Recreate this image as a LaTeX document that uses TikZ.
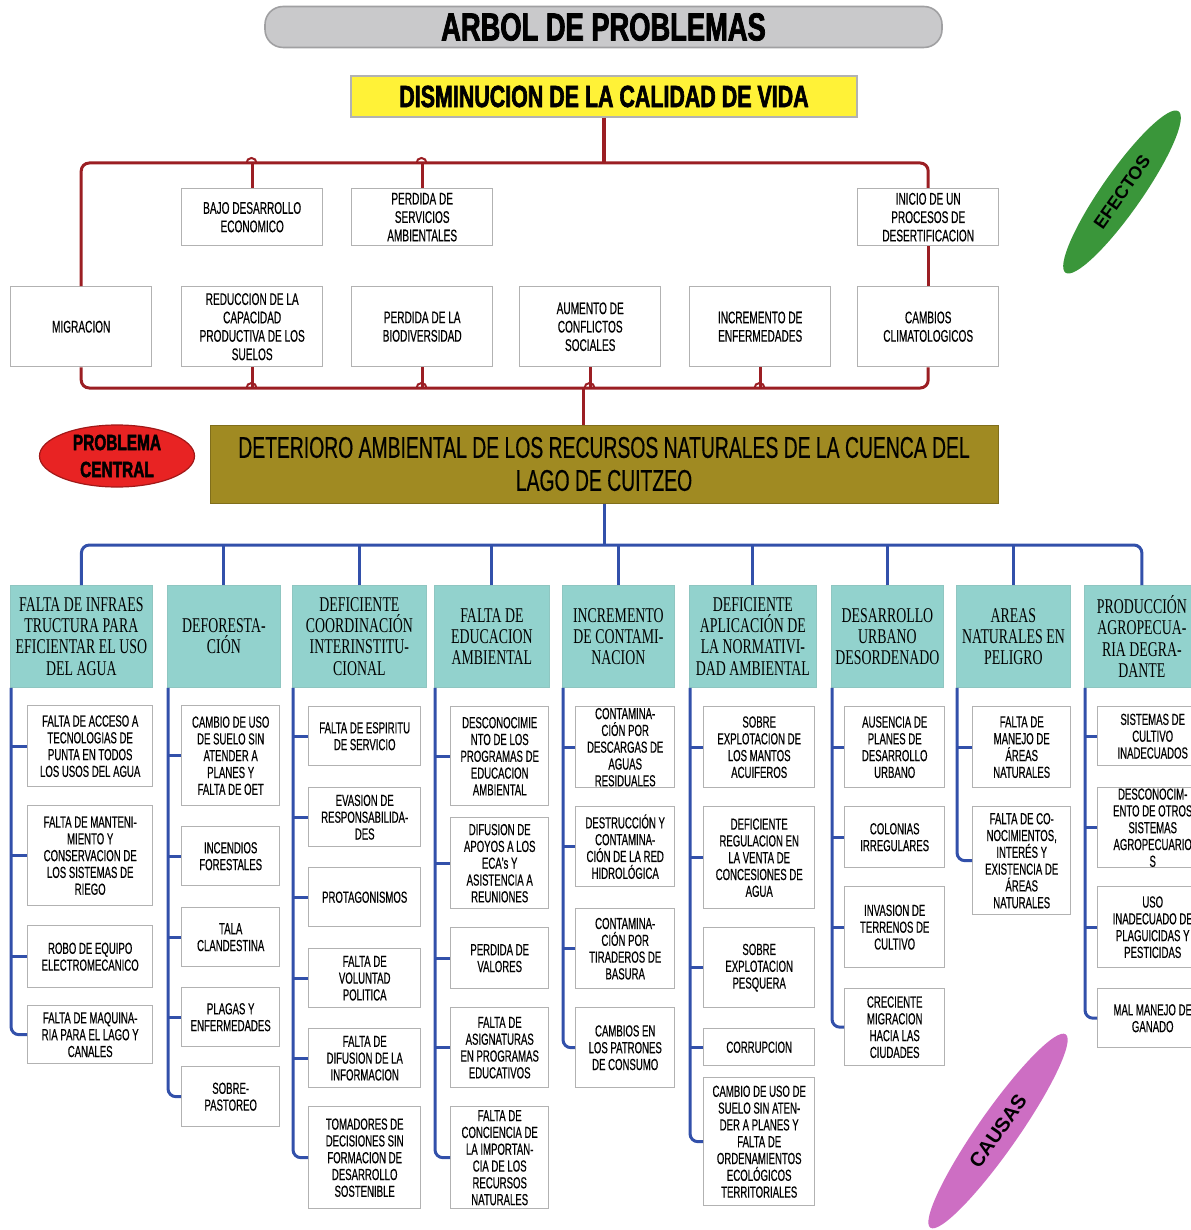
\documentclass[tikz,border=0pt]{standalone}
\usepackage{fontspec}
\usetikzlibrary{shapes.geometric}

\setmainfont{Liberation Sans}
\newfontfamily\narrowfont[FakeStretch = 0.6, FakeBold = 0.4]{Liberation Sans}
\newfontfamily\centralfont[FakeStretch = 0.645, FakeBold = 0.4]{Liberation Sans}
\newfontfamily\heavyfont[FakeStretch = 0.7, FakeBold = 2]{Liberation Sans Bold}
\newfontfamily\headfont[FakeStretch = 0.66]{Liberation Serif}

\definecolor{barGray}{RGB}{201,201,203}
\definecolor{barEdge}{RGB}{160,160,162}
\definecolor{yellowBox}{RGB}{255,242,55}
\definecolor{effectRed}{RGB}{155,30,35}
\definecolor{oliveBox}{RGB}{160,138,34}
\definecolor{headTeal}{RGB}{146,210,205}
\definecolor{causeBlue}{RGB}{50,80,170}
\definecolor{boxGray}{RGB}{178,178,178}
\definecolor{leafGreen}{RGB}{58,150,58}
\definecolor{leafPink}{RGB}{205,110,195}
\definecolor{centralRed}{RGB}{232,35,35}

\def\u{0.5pt}	% One pixel of the reference

\begin{document}
\begin{tikzpicture}[x = \u, y = -\u,
	wh/.style 2 args = {minimum width = #1*\u, minimum height = #2*\u},
	effect/.style = {draw = boxGray, line width = 0.7pt, fill = white, anchor = north west, align = center, inner sep = 1pt, font = \narrowfont\fontsize{8.4}{9.2}\selectfont},
	cause/.style = {draw = boxGray, line width = 0.7pt, fill = white, anchor = north west, align = center, inner sep = 0pt, font = \narrowfont\fontsize{8}{8.4}\selectfont},
	header/.style = {draw = headTeal!85!gray, fill = headTeal, anchor = north west, align = center, inner sep = 1pt, font = \headfont\fontsize{10.5}{10.6}\selectfont},
	effect line/.style = {draw = effectRed, line width = 1.5pt, rounded corners = 4pt},
	cause line/.style = {draw = causeBlue, line width = 1.5pt, rounded corners = 4pt}]

	\useasboundingbox (0, 0) rectangle (1190, 1230);

	% Title and main effect

	\node [draw = barEdge, line width = 0.8pt, fill = barGray, rounded corners = 9pt, wh = {677}{38}, font = \heavyfont\fontsize{19.5}{20}\selectfont] (title) at (603.5, 27) {ARBOL DE PROBLEMAS};
	\node [draw = boxGray, line width = 0.7pt, fill = yellowBox, wh = {506}{41}, font = \heavyfont\fontsize{15.3}{16}\selectfont] (dism) at (604, 96.5) {DISMINUCION DE LA CALIDAD DE VIDA};

	% Effects, upper row

	\node [effect, wh = {141}{57}] (bajo) at (181, 188) {BAJO DESARROLLO\\ECONOMICO};
	\node [effect, wh = {141}{57}] (servicios) at (351, 188) {PERDIDA DE\\SERVICIOS\\AMBIENTALES};
	\node [effect, wh = {141}{57}] (inicio) at (857, 188) {INICIO DE UN\\PROCESOS DE\\DESERTIFICACION};

	% Effects, lower row

	\node [effect, wh = {141}{80}] (migracion) at (10, 286) {MIGRACION};
	\node [effect, wh = {141}{80}] (reduccion) at (181, 286) {REDUCCION DE LA\\CAPACIDAD\\PRODUCTIVA DE LOS\\SUELOS};
	\node [effect, wh = {141}{80}] (biodiv) at (351, 286) {PERDIDA DE LA\\BIODIVERSIDAD};
	\node [effect, wh = {141}{80}] (aumento) at (519, 286) {AUMENTO DE\\CONFLICTOS\\SOCIALES};
	\node [effect, wh = {141}{80}] (enfermedades) at (689, 286) {INCREMENTO DE\\ENFERMEDADES};
	\node [effect, wh = {141}{80}] (cambios) at (857, 286) {CAMBIOS\\CLIMATOLOGICOS};

	% Central problem

	\node [draw = oliveBox!80!black, line width = 0.5pt, fill = oliveBox, wh = {788}{78}, align = center, font = \centralfont\fontsize{15}{16.5}\selectfont] (central) at (604, 464) {DETERIORO AMBIENTAL DE LOS RECURSOS NATURALES DE LA CUENCA DEL\\LAGO DE CUITZEO};
	\node [ellipse, draw = centralRed!70!black, line width = 0.6pt, fill = centralRed, wh = {155}{62}, inner sep = 0pt, align = center, font = \heavyfont\fontsize{11}{13.5}\selectfont] (problema) at (117, 456) {PROBLEMA\\CENTRAL};

	% Leaves

	\node [ellipse, fill = leafGreen, rotate = 55, wh = {197}{40}, font = \bfseries\fontsize{9}{10}\selectfont] (efectos) at (1122, 192) {EFECTOS};
	\node [ellipse, fill = leafPink, rotate = 55, wh = {236}{40}, font = \bfseries\fontsize{10}{11}\selectfont] (causas) at (998, 1131) {CAUSAS};

	% Red connectors of the effects

	\coordinate (topbar) at (604, 163);
	\coordinate (botbar) at (583, 388);

	\draw [effect line, line width = 2pt] (dism.south) -- (topbar);
	\draw [effect line] (migracion.north) -- (migracion.north |- topbar) -- (inicio.north |- topbar) -- (inicio.north);
	\draw [effect line] (bajo.north) -- (bajo.north |- topbar);
	\draw [effect line] (servicios.north) -- (servicios.north |- topbar);
	\draw [effect line] (inicio.south) -- (cambios.north);

	\draw [effect line] (migracion.south) -- (migracion.south |- botbar) -- (cambios.south |- botbar) -- (cambios.south);
	\draw [effect line] (reduccion.south) -- (reduccion.south |- botbar);
	\draw [effect line] (biodiv.south) -- (biodiv.south |- botbar);
	\draw [effect line] (aumento.south) -- (aumento.south |- botbar);
	\draw [effect line] (enfermedades.south) -- (enfermedades.south |- botbar);
	\draw [effect line] (botbar) -- (central.north -| botbar);

	% Hops where the branches meet the bars

	\draw [effect line, line width = 1pt] (246.5, 163) arc (180 : 0 : 2.5pt);
	\draw [effect line, line width = 1pt] (416.5, 163) arc (180 : 0 : 2.5pt);
	\draw [effect line, line width = 1pt] (246.5, 388) arc (180 : 0 : 2.5pt);
	\draw [effect line, line width = 1pt] (416.5, 388) arc (180 : 0 : 2.5pt);
	\draw [effect line, line width = 1pt] (584.5, 388) arc (180 : 0 : 2.5pt);
	\draw [effect line, line width = 1pt] (754.5, 388) arc (180 : 0 : 2.5pt);

	% Headers of the causes

	\node [header, wh = {142}{102}] (h1) at (10, 585) {FALTA DE INFRAES\\TRUCTURA PARA\\EFICIENTAR EL USO\\DEL AGUA};
	\node [header, wh = {113}{102}] (h2) at (167, 585) {DEFORESTA-\\CIÓN};
	\node [header, wh = {134}{102}] (h3) at (292, 585) {DEFICIENTE\\COORDINACIÓN\\INTERINSTITU-\\CIONAL};
	\node [header, wh = {115}{102}] (h4) at (434, 585) {FALTA DE\\EDUCACION\\AMBIENTAL};
	\node [header, wh = {112}{102}] (h5) at (562, 585) {INCREMENTO\\DE CONTAMI-\\NACION};
	\node [header, wh = {127}{102}] (h6) at (689, 585) {DEFICIENTE\\APLICACIÓN DE\\LA NORMATIVI-\\DAD AMBIENTAL};
	\node [header, wh = {112}{102}] (h7) at (831, 585) {DESARROLLO\\URBANO\\DESORDENADO};
	\node [header, wh = {114}{102}] (h8) at (956, 585) {AREAS\\NATURALES EN\\PELIGRO};
	\node [header, wh = {115}{102}] (h9) at (1084, 585) {PRODUCCIÓN\\AGROPECUA-\\RIA DEGRA-\\DANTE};

	% Blue connectors to the headers

	\coordinate (bluebar) at (604, 545);

	\draw [cause line] (central.south) -- (bluebar);
	\draw [cause line] (h1.north) -- (h1.north |- bluebar) -- (h9.north |- bluebar) -- (h9.north);
	\draw [cause line] (h2.north) -- (h2.north |- bluebar);
	\draw [cause line] (h3.north) -- (h3.north |- bluebar);
	\draw [cause line] (h4.north) -- (h4.north |- bluebar);
	\draw [cause line] (h5.north) -- (h5.north |- bluebar);
	\draw [cause line] (h6.north) -- (h6.north |- bluebar);
	\draw [cause line] (h7.north) -- (h7.north |- bluebar);
	\draw [cause line] (h8.north) -- (h8.north |- bluebar);

	% Column 1

	\node [cause, wh = {125}{81}] (c11) at (27, 705) {FALTA DE ACCESO A\\TECNOLOGIAS DE\\PUNTA EN TODOS\\LOS USOS DEL AGUA};
	\node [cause, wh = {125}{100}] (c12) at (27, 805) {FALTA DE MANTENI-\\MIENTO Y\\CONSERVACION DE\\LOS SISTEMAS DE\\RIEGO};
	\node [cause, wh = {125}{62}] (c13) at (27, 925) {ROBO DE EQUIPO\\ELECTROMECANICO};
	\node [cause, wh = {125}{58}] (c14) at (27, 1005) {FALTA DE MAQUINA-\\RIA PARA EL LAGO Y\\CANALES};

	\coordinate (l1) at ([xshift = 0.5pt]h1.south west);
	\draw [cause line] (l1) |- (c14.west);
	\draw [cause line] (l1 |- c11.west) -- (c11.west);
	\draw [cause line] (l1 |- c12.west) -- (c12.west);
	\draw [cause line] (l1 |- c13.west) -- (c13.west);

	% Column 2

	\node [cause, wh = {98}{100}] (c21) at (181, 705) {CAMBIO DE USO\\DE SUELO SIN\\ATENDER A\\PLANES Y\\FALTA DE OET};
	\node [cause, wh = {98}{59}] (c22) at (181, 826) {INCENDIOS\\FORESTALES};
	\node [cause, wh = {98}{59}] (c23) at (181, 907) {TALA\\CLANDESTINA};
	\node [cause, wh = {98}{59}] (c24) at (181, 987) {PLAGAS Y\\ENFERMEDADES};
	\node [cause, wh = {98}{60}] (c25) at (181, 1066) {SOBRE-\\PASTOREO};

	\coordinate (l2) at ([xshift = 0.5pt]h2.south west);
	\draw [cause line] (l2) |- (c25.west);
	\draw [cause line] (l2 |- c21.west) -- (c21.west);
	\draw [cause line] (l2 |- c22.west) -- (c22.west);
	\draw [cause line] (l2 |- c23.west) -- (c23.west);
	\draw [cause line] (l2 |- c24.west) -- (c24.west);

	% Column 3

	\node [cause, wh = {112}{59}] (c31) at (308, 706) {FALTA DE ESPIRITU\\DE SERVICIO};
	\node [cause, wh = {112}{59}] (c32) at (308, 787) {EVASION DE\\RESPONSABILIDA-\\DES};
	\node [cause, wh = {112}{59}] (c33) at (308, 867) {PROTAGONISMOS};
	\node [cause, wh = {112}{59}] (c34) at (308, 948) {FALTA DE\\VOLUNTAD\\POLITICA};
	\node [cause, wh = {112}{59}] (c35) at (308, 1028) {FALTA DE\\DIFUSION DE LA\\INFORMACION};
	\node [cause, wh = {112}{102}] (c36) at (308, 1106) {TOMADORES DE\\DECISIONES SIN\\FORMACION DE\\DESARROLLO\\SOSTENIBLE};

	\coordinate (l3) at ([xshift = 0.5pt]h3.south west);
	\draw [cause line] (l3) |- (c36.west);
	\draw [cause line] (l3 |- c31.west) -- (c31.west);
	\draw [cause line] (l3 |- c32.west) -- (c32.west);
	\draw [cause line] (l3 |- c33.west) -- (c33.west);
	\draw [cause line] (l3 |- c34.west) -- (c34.west);
	\draw [cause line] (l3 |- c35.west) -- (c35.west);

	% Column 4

	\node [cause, wh = {98}{99}] (c41) at (450, 706) {DESCONOCIMIE\\NTO DE LOS\\PROGRAMAS DE\\EDUCACION\\AMBIENTAL};
	\node [cause, wh = {98}{91}] (c42) at (450, 817) {DIFUSION DE\\APOYOS A LOS\\ECA's Y\\ASISTENCIA A\\REUNIONES};
	\node [cause, wh = {98}{61}] (c43) at (450, 927) {PERDIDA DE\\VALORES};
	\node [cause, wh = {98}{80}] (c44) at (450, 1007) {FALTA DE\\ASIGNATURAS\\EN PROGRAMAS\\EDUCATIVOS};
	\node [cause, wh = {98}{102}] (c45) at (450, 1106) {FALTA DE\\CONCIENCIA DE\\LA IMPORTAN-\\CIA DE LOS\\RECURSOS\\NATURALES};

	\coordinate (l4) at ([xshift = 0.5pt]h4.south west);
	\draw [cause line] (l4) |- (c45.west);
	\draw [cause line] (l4 |- c41.west) -- (c41.west);
	\draw [cause line] (l4 |- c42.west) -- (c42.west);
	\draw [cause line] (l4 |- c43.west) -- (c43.west);
	\draw [cause line] (l4 |- c44.west) -- (c44.west);

	% Column 5

	\node [cause, wh = {99}{81}] (c51) at (575, 706) {CONTAMINA-\\CIÓN POR\\DESCARGAS DE\\AGUAS\\RESIDUALES};
	\node [cause, wh = {99}{80}] (c52) at (575, 806) {DESTRUCCIÓN Y\\CONTAMINA-\\CIÓN DE LA RED\\HIDROLÓGICA};
	\node [cause, wh = {99}{80}] (c53) at (575, 908) {CONTAMINA-\\CIÓN POR\\TIRADEROS DE\\BASURA};
	\node [cause, wh = {99}{80}] (c54) at (575, 1007) {CAMBIOS EN\\LOS PATRONES\\DE CONSUMO};

	\coordinate (l5) at ([xshift = 0.5pt]h5.south west);
	\draw [cause line] (l5) |- (c54.west);
	\draw [cause line] (l5 |- c51.west) -- (c51.west);
	\draw [cause line] (l5 |- c52.west) -- (c52.west);
	\draw [cause line] (l5 |- c53.west) -- (c53.west);

	% Column 6

	\node [cause, wh = {111}{81}] (c61) at (703, 706) {SOBRE\\EXPLOTACION DE\\LOS MANTOS\\ACUIFEROS};
	\node [cause, wh = {111}{102}] (c62) at (703, 806) {DEFICIENTE\\REGULACION EN\\LA VENTA DE\\CONCESIONES DE\\AGUA};
	\node [cause, wh = {111}{80}] (c63) at (703, 927) {SOBRE\\EXPLOTACION\\PESQUERA};
	\node [cause, wh = {111}{37}] (c64) at (703, 1028) {CORRUPCION};
	\node [cause, wh = {111}{128}] (c65) at (703, 1077) {CAMBIO DE USO DE\\SUELO SIN ATEN-\\DER A PLANES Y\\FALTA DE\\ORDENAMIENTOS\\ECOLÓGICOS\\TERRITORIALES};

	\coordinate (l6) at ([xshift = 0.5pt]h6.south west);
	\draw [cause line] (l6) |- (c65.west);
	\draw [cause line] (l6 |- c61.west) -- (c61.west);
	\draw [cause line] (l6 |- c62.west) -- (c62.west);
	\draw [cause line] (l6 |- c63.west) -- (c63.west);
	\draw [cause line] (l6 |- c64.west) -- (c64.west);

	% Column 7

	\node [cause, wh = {100}{81}] (c71) at (844, 706) {AUSENCIA DE\\PLANES DE\\DESARROLLO\\URBANO};
	\node [cause, wh = {100}{61}] (c72) at (844, 806) {COLONIAS\\IRREGULARES};
	\node [cause, wh = {100}{81}] (c73) at (844, 886) {INVASION DE\\TERRENOS DE\\CULTIVO};
	\node [cause, wh = {100}{77}] (c74) at (844, 988) {CRECIENTE\\MIGRACION\\HACIA LAS\\CIUDADES};

	\coordinate (l7) at ([xshift = 0.5pt]h7.south west);
	\draw [cause line] (l7) |- (c74.west);
	\draw [cause line] (l7 |- c71.west) -- (c71.west);
	\draw [cause line] (l7 |- c72.west) -- (c72.west);
	\draw [cause line] (l7 |- c73.west) -- (c73.west);

	% Column 8

	\node [cause, wh = {98}{81}] (c81) at (972, 706) {FALTA DE\\MANEJO DE\\ÁREAS\\NATURALES};
	\node [cause, wh = {98}{108}] (c82) at (972, 806) {FALTA DE CO-\\NOCIMIENTOS,\\INTERÉS Y\\EXISTENCIA DE\\ÁREAS\\NATURALES};

	\coordinate (l8) at ([xshift = 0.5pt]h8.south west);
	\draw [cause line] (l8) |- (c82.west);
	\draw [cause line] (l8 |- c81.west) -- (c81.west);

	% Column 9

	\node [cause, wh = {110}{59}] (c91) at (1097, 706) {SISTEMAS DE\\CULTIVO\\INADECUADOS};
	\node [cause, wh = {110}{80}] (c92) at (1097, 787) {DESCONOCIM-\\ENTO DE OTROS\\SISTEMAS\\AGROPECUARIO\\S};
	\node [cause, wh = {110}{81}] (c93) at (1097, 886) {USO\\INADECUADO DE\\PLAGUICIDAS Y\\PESTICIDAS};
	\node [cause, wh = {110}{59}] (c94) at (1097, 988) {MAL MANEJO DE\\GANADO};

	\coordinate (l9) at ([xshift = 0.5pt]h9.south west);
	\draw [cause line] (l9) |- (c94.west);
	\draw [cause line] (l9 |- c91.west) -- (c91.west);
	\draw [cause line] (l9 |- c92.west) -- (c92.west);
	\draw [cause line] (l9 |- c93.west) -- (c93.west);

\end{tikzpicture}
\end{document}
